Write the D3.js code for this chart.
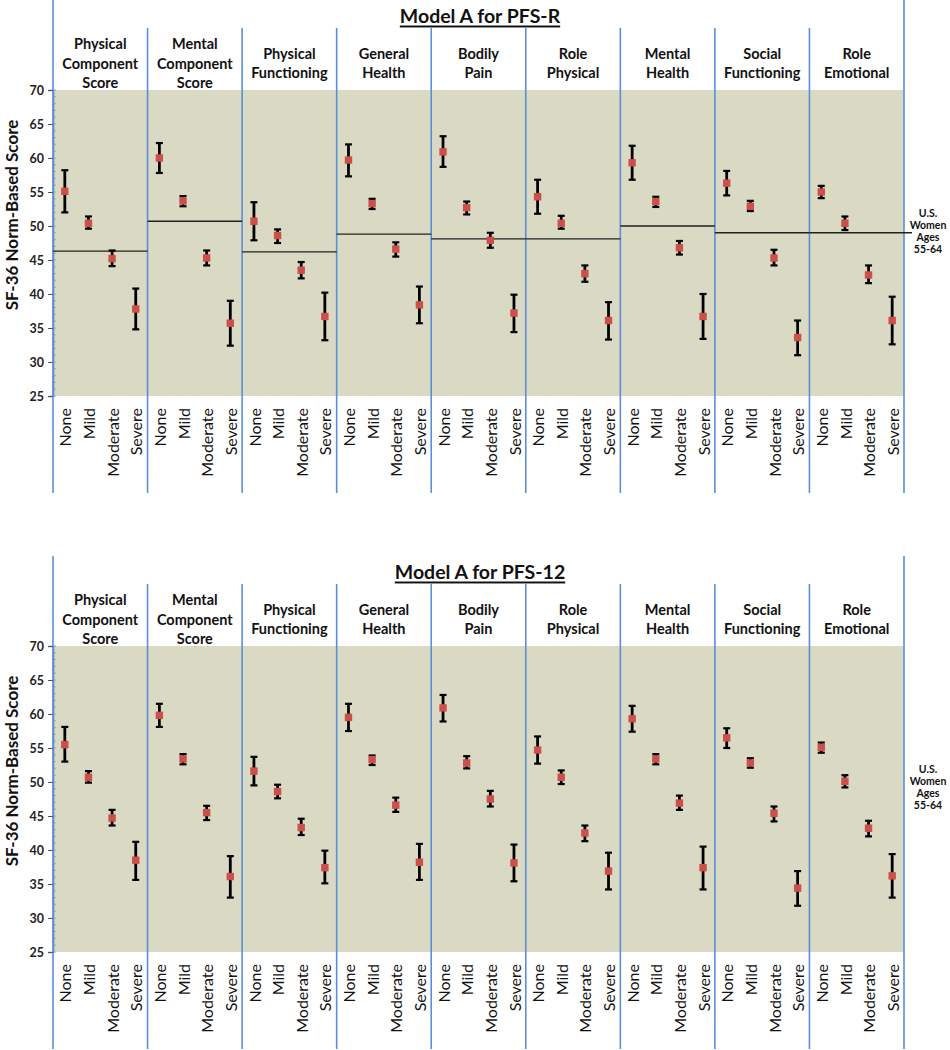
<!DOCTYPE html>
<html><head><meta charset="utf-8">
<script src="https://cdn.jsdelivr.net/npm/d3@7"></script>
<style>
body{margin:0;background:#fff;}
svg{display:block;font-family:Lato,"Noto Sans",sans-serif;}
</style>
</head><body>
<svg id="chart" width="950" height="1050"></svg>
<script>
// ---------- data ----------
const scaleNames = [
  ["Physical","Component","Score"],
  ["Mental","Component","Score"],
  ["Physical","Functioning"],
  ["General","Health"],
  ["Bodily","Pain"],
  ["Role","Physical"],
  ["Mental","Health"],
  ["Social","Functioning"],
  ["Role","Emotional"]
];
const severities = ["None","Mild","Moderate","Severe"];
const panelTitles = ["Model A for PFS-R","Model A for PFS-12"];
const yTicks = [25,30,35,40,45,50,55,60,65,70];
const yAxisTitle = "SF-36 Norm-Based Score";
const normLabel = ["U.S.","Women","Ages","55-64"];
const normLabelValue = 49;

// Norm reference lines (U.S. women 55-64), PFS-R panel only
const refLinesR = [46.3,50.7,46.2,48.8,48.1,48.1,50.0,49.0,49.0];

// PFS-R: means, lower, upper
const meanR = [
  [55.1,50.4,45.2,37.8],[60.0,53.7,45.3,35.7],[50.7,48.6,43.5,36.7],
  [59.7,53.3,46.6,38.4],[60.9,52.7,47.9,37.2],[54.3,50.4,43.0,36.1],
  [59.3,53.6,46.8,36.7],[56.3,52.9,45.3,33.6],[55.0,50.4,42.8,36.1]
];
const lowR = [
  [52.0,49.6,44.1,34.8],[57.8,52.9,44.2,32.4],[47.9,47.5,42.3,33.2],
  [57.3,52.5,45.5,35.7],[58.7,51.7,46.8,34.4],[51.8,49.6,41.8,33.3],
  [56.8,52.8,45.8,33.4],[54.5,52.2,44.2,31.0],[54.1,49.4,41.6,32.6]
];
const highR = [
  [58.2,51.4,46.4,40.8],[62.2,54.4,46.4,39.0],[53.5,49.5,44.7,40.2],
  [62.0,54.0,47.6,41.1],[63.2,53.6,49.0,39.9],[56.8,51.5,44.2,38.8],
  [61.8,54.3,47.8,40.0],[58.1,53.7,46.5,36.1],[55.9,51.4,44.2,39.6]
];

// PFS-12: means, lower, upper
const mean12 = [
  [55.5,50.7,44.7,38.5],[59.8,53.4,45.5,36.1],[51.6,48.6,43.3,37.4],
  [59.5,53.3,46.6,38.2],[60.9,52.8,47.5,38.1],[54.7,50.7,42.5,36.9],
  [59.3,53.4,46.9,37.4],[56.5,52.8,45.4,34.4],[55.1,50.1,43.2,36.2]
];
const low12 = [
  [53.0,49.9,43.6,35.6],[58.1,52.6,44.4,33.0],[49.5,47.6,42.2,35.1],
  [57.5,52.5,45.6,35.6],[58.9,52.0,46.4,35.4],[52.7,49.7,41.3,34.2],
  [57.4,52.6,45.9,34.2],[55.0,52.1,44.2,31.8],[54.3,49.2,42.0,33.0]
];
const high12 = [
  [58.1,51.6,45.9,41.2],[61.5,54.1,46.5,39.1],[53.7,49.6,44.6,39.9],
  [61.5,53.9,47.7,40.9],[62.8,53.8,48.7,40.8],[56.7,51.7,43.6,39.6],
  [61.2,54.1,48.0,40.5],[57.9,53.5,46.4,36.9],[55.8,51.0,44.3,39.4]
];

// ---------- layout ----------
const svg = d3.select("#chart");
const left = 53, right = 904;
const plotH = 306;
const panels = [
  {title: panelTitles[0], top: 90, mean: meanR, low: lowR, high: highR, ref: refLinesR},
  {title: panelTitles[1], top: 646, mean: mean12, low: low12, high: high12, ref: null}
];
const bg = "#d9d9c4", blue = "#5b8ed6", red = "#cd4f4a";

const x = d3.scaleBand().domain(d3.range(scaleNames.length)).range([left, right]);
const bw = x.bandwidth();
const xi = d3.scalePoint().domain(severities).range([0, bw]).padding(0.5);

panels.forEach(p => {
  const g = svg.append("g");
  const y = d3.scaleLinear().domain([25,70]).range([p.top + plotH, p.top]);
  const bottom = p.top + plotH;

  // background
  g.append("rect").attr("x", left).attr("y", p.top).attr("width", right-left).attr("height", plotH).attr("fill", bg);

  // title
  g.append("text").attr("x", 480).attr("y", p.top - 75)
    .attr("text-anchor","middle").attr("dominant-baseline","central")
    .attr("font-size", 19.5).attr("font-weight", 700).attr("fill","#111")
    .style("text-decoration","underline").text(p.title);

  // divider lines
  d3.range(scaleNames.length + 1).forEach(i => {
    const xx = i < scaleNames.length ? x(i) : right;
    const outer = (i === 0 || i === scaleNames.length);
    g.append("line").attr("x1", xx).attr("x2", xx)
      .attr("y1", outer ? p.top - 90 : p.top - 62).attr("y2", bottom + 97)
      .attr("stroke", blue).attr("stroke-width", 1.6);
  });

  // headers
  scaleNames.forEach((lines, i) => {
    const t = g.append("text").attr("text-anchor","middle")
      .attr("font-size", 14.5).attr("font-weight", 700).attr("fill","#111");
    const n = lines.length;
    lines.forEach((ln, k) => {
      t.append("tspan").attr("x", x(i) + bw/2)
        .attr("y", p.top - 27 + (k - (n-1)/2) * 19.5)
        .attr("dominant-baseline","central").text(ln);
    });
  });

  // y axis
  const minor = d3.range(25, 71, 1);
  g.selectAll(".minor").data(minor).join("line")
    .attr("x1", left).attr("x2", left + 3)
    .attr("y1", d => y(d)).attr("y2", d => y(d))
    .attr("stroke", "#8a9bb8").attr("stroke-width", 0.8);
  const ax = g.append("g").attr("transform", `translate(${left},0)`)
    .call(d3.axisLeft(y).tickValues(yTicks).tickSize(5).tickPadding(4));
  ax.select(".domain").attr("stroke", blue).attr("stroke-width", 1.6);
  ax.selectAll(".tick line").attr("stroke", "#555");
  ax.selectAll(".tick text").attr("font-size", 12.5).attr("font-weight", 700)
    .attr("fill", "#222").attr("font-family", "Lato, sans-serif");

  g.append("text").attr("transform", `translate(18,${p.top + plotH/2 - 28}) rotate(-90)`)
    .attr("text-anchor","middle").attr("font-size", 17).attr("font-weight", 700)
    .attr("fill","#111").text(yAxisTitle);

  // reference lines
  if (p.ref) {
    p.ref.forEach((v, i) => {
      const last = i === p.ref.length - 1;
      g.append("line").attr("x1", x(i)).attr("x2", last ? right + 8 : x(i) + bw)
        .attr("y1", y(v)).attr("y2", y(v))
        .attr("stroke", "#222").attr("stroke-width", 1.4);
    });
  }

  // norm label
  const nl = g.append("text").attr("text-anchor","middle")
    .attr("font-size", 10.5).attr("font-weight", 700).attr("fill","#111");
  normLabel.forEach((ln, k) => {
    nl.append("tspan").attr("x", 928).attr("y", y(normLabelValue) - 20 + k * 12)
      .attr("dominant-baseline","central").text(ln);
  });

  // x labels
  scaleNames.forEach((_, i) => {
    severities.forEach(s => {
      const px = x(i) + xi(s) + 1;
      g.append("text").attr("transform", `translate(${px},${bottom + 12}) rotate(-90)`)
        .attr("text-anchor","end").attr("dy","0.35em")
        .attr("font-size", 16).attr("fill","#111").text(s);
    });
  });

  // error bars + markers
  scaleNames.forEach((_, i) => {
    severities.forEach((s, j) => {
      const px = x(i) + xi(s);
      const m = p.mean[i][j], lo = p.low[i][j], hi = p.high[i][j];
      g.append("line").attr("x1", px).attr("x2", px).attr("y1", y(hi)).attr("y2", y(lo))
        .attr("stroke", "#000").attr("stroke-width", 2.8);
      [hi, lo].forEach(v => {
        g.append("line").attr("x1", px - 3.5).attr("x2", px + 3.5).attr("y1", y(v)).attr("y2", y(v))
          .attr("stroke", "#000").attr("stroke-width", 2.2);
      });
      g.append("rect").attr("x", px - 3.7).attr("y", y(m) - 3.7).attr("width", 7.4).attr("height", 7.4)
        .attr("fill", red);
    });
  });
});
</script>
</body></html>
